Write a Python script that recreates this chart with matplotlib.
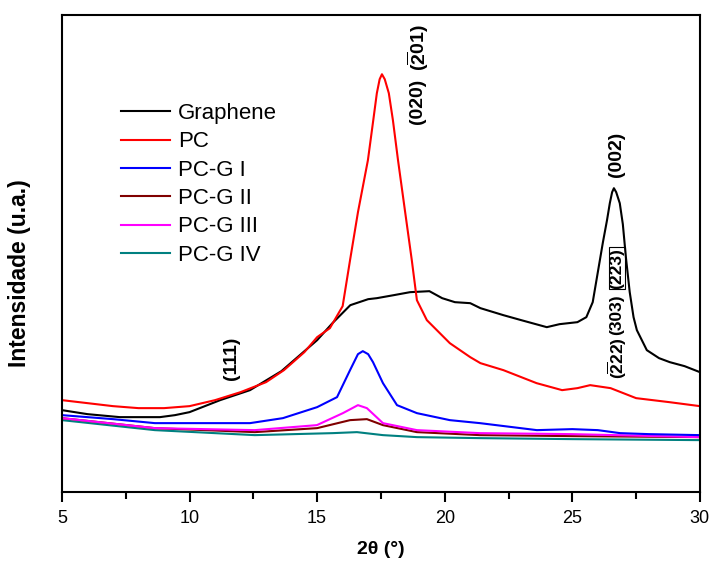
import matplotlib
matplotlib.use("Agg")
import matplotlib.pyplot as plt

plt.rcParams["font.family"] = ["Liberation Sans", "DejaVu Sans"]
plt.rcParams["mathtext.fontset"] = "custom"
plt.rcParams["mathtext.bf"] = "Liberation Sans:bold"
plt.rcParams["mathtext.rm"] = "Liberation Sans:bold"

# diffractograms, 2theta (deg) vs intensity (a.u.)
x_graphene = [5.0, 6.0, 7.27, 8.84, 9.43, 10.0, 10.4, 11.2, 12.37, 13.6, 15.0, 15.6, 16.3,
              17.0, 17.34, 18.0, 18.64, 19.4, 19.9, 20.4, 21.0, 21.4, 22.3, 23.0, 24.0,
              24.5, 25.2, 25.55, 25.8, 26.0, 26.2, 26.36, 26.47, 26.56, 26.63, 26.72,
              26.86, 26.98, 27.1, 27.25, 27.4, 27.53, 27.92, 28.4, 28.82, 29.4, 30.0]
y_graphene = [82, 78, 75, 75, 77, 80, 84, 92, 102, 121, 152, 169, 187,
              193, 194, 197, 200, 201, 194, 190, 189, 184, 177, 172, 165,
              168, 170, 175, 190, 220, 250, 272, 289, 300, 304, 300,
              289, 268, 235, 200, 175, 162, 142, 134, 130, 126, 120]

x_pc = [5.0, 6.0, 7.0, 8.0, 9.0, 10.0, 11.0, 12.0, 13.0, 13.7, 14.5, 15.0, 15.5, 16.0,
        16.29, 16.6, 16.99, 17.2, 17.34, 17.45, 17.54, 17.65, 17.81, 17.97, 18.17,
        18.45, 18.71, 18.91, 19.3, 20.2, 21.0, 21.4, 22.3, 23.6, 24.6, 25.2, 25.7,
        26.5, 27.5, 28.8, 30.0]
y_pc = [92, 89, 86, 84, 84, 86, 92, 100, 110, 122, 140, 155, 164, 186,
        232, 280, 332, 372, 399, 413, 418, 413, 399, 372, 332,
        280, 232, 192, 172, 149, 135, 129, 122, 109, 102, 104, 107,
        104, 94, 90, 86]

x_pcg1 = [5.0, 6.0, 7.0, 8.64, 10.0, 12.37, 13.66, 15.0, 15.78, 16.29, 16.6, 16.79, 17.0,
          17.19, 17.58, 18.13, 18.91, 20.2, 21.38, 23.61, 25.0, 26.0, 26.87, 28.0, 30.0]
y_pcg1 = [77, 75, 73, 69, 69, 69, 74, 85, 95, 122, 138, 141, 138,
          130, 109, 87, 79, 72, 69, 62, 63, 62, 59, 58, 57]

x_pcg2 = [5.0, 8.64, 12.56, 15.0, 16.29, 16.95, 17.58, 18.91, 21.38, 25.0, 30.0]
y_pcg2 = [74, 64, 60, 64, 72, 73, 67, 60, 57, 56, 55]

x_pcg3 = [5.0, 8.64, 12.56, 14.99, 16.01, 16.6, 16.95, 17.58, 18.91, 21.38, 25.0, 30.0]
y_pcg3 = [74, 64, 62, 67, 79, 87, 84, 69, 62, 59, 58, 55]

x_pcg4 = [5.0, 8.64, 12.56, 15.62, 16.56, 17.58, 18.91, 21.38, 25.0, 30.0]
y_pcg4 = [72, 62, 57, 59, 60, 57, 55, 54, 53, 52]

labels = ["Graphene", "PC", "PC-G I", "PC-G II", "PC-G III", "PC-G IV"]
colors = ["black", "#ff0000", "#0000ff", "#800000", "#ff00ff", "#008080"]

# peak indexes: (label, 2theta, height)
peak_labels = ["(020)", r"($\overline{2}$01)", "(002)", "(223)", "(303)",
               r"($\overline{2}$22)", "(111)"]
peak_x = [18.95, 18.95, 26.75, 26.75, 26.75, 26.75, 11.66]
peak_y = [391, 445, 338, 224, 177, 134, 134]
peak_size = [14, 14, 14, 12.5, 12.5, 12.5, 14]

fig = plt.figure(figsize=(7.12, 5.65), dpi=100)
ax = fig.add_axes([0.087, 0.129, 0.896, 0.844])

series = [(x_graphene, y_graphene), (x_pc, y_pc), (x_pcg1, y_pcg1),
          (x_pcg2, y_pcg2), (x_pcg3, y_pcg3), (x_pcg4, y_pcg4)]
# draw low curves first so black/red stay on top
for i in [5, 3, 4, 2, 0, 1]:
    xs, ys = series[i]
    ax.plot(xs, ys, color=colors[i], lw=1.5, label=labels[i])

ax.set_xlim(5, 30)
ax.set_ylim(0, 477)
ax.set_yticks([])
ax.set_xticks([5, 10, 15, 20, 25, 30])
ax.set_xticks([7.5, 12.5, 17.5, 22.5, 27.5], minor=True)
ax.tick_params(axis="x", which="major", direction="out", length=7, width=1.5, pad=6,
               labelsize=13)
ax.tick_params(axis="x", which="minor", direction="out", length=5, width=1.5)
for sp in ax.spines.values():
    sp.set_linewidth(1.5)

ax.set_xlabel("2θ (°)", fontsize=14, fontweight="bold", labelpad=10)
ax.set_ylabel("Intensidade (u.a.)", fontsize=16.5, fontweight="bold")
ax.yaxis.set_label_coords(-0.048, 0.459)

handles, labs = ax.get_legend_handles_labels()
order = [labs.index(l) for l in labels]
ax.legend([handles[k] for k in order], labels, loc="upper left",
          bbox_to_anchor=(0.062, 0.858), frameon=False, fontsize=16,
          handlelength=2.2, handletextpad=0.35, labelspacing=0.33)

for txt, px, py, fs in zip(peak_labels, peak_x, peak_y, peak_size):
    box = None
    if txt == "(223)":
        box = dict(boxstyle="square,pad=0.05", fc="none", ec="black", lw=0.8)
    ax.text(px, py, txt, rotation=90, ha="center", va="center", fontsize=fs,
            fontweight="bold", clip_on=False, bbox=box)

fig.savefig("out.png", dpi=100)
